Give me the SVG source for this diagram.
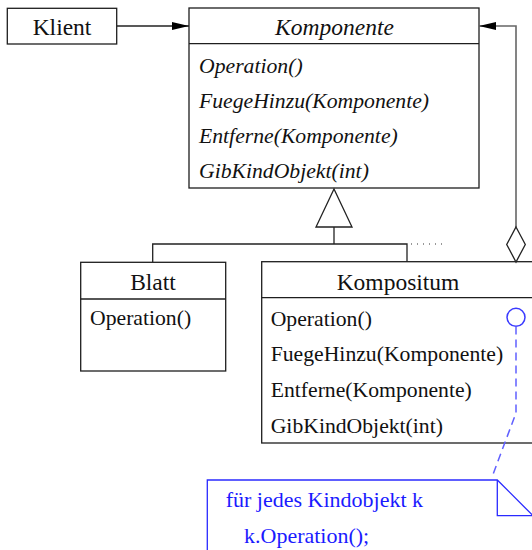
<svg xmlns="http://www.w3.org/2000/svg" width="532" height="550" viewBox="0 0 532 550">
  <style>
    .box { fill: #ffffff; stroke: #1e1e1e; stroke-width: 1.3; }
    .sep { stroke: #1e1e1e; stroke-width: 1.3; fill: none; }
    text { font-family: "Liberation Serif", "Times New Roman", serif; font-size: 21.7px; }
    .t { fill: #111111; }
    .hd { font-size: 23.5px; text-anchor: middle; }
    .it { font-style: italic; }
    .line { stroke: #222222; stroke-width: 1.3; fill: none; }
    .agg { stroke: #666666; stroke-width: 1.6; fill: none; }
    .note { fill: #ffffff; stroke: #2a2aff; stroke-width: 1.3; }
    .nt { fill: #1a1aff; font-size: 22px; }
    .link { stroke: #6060ff; stroke-width: 1.5; fill: none; stroke-dasharray: 8 5; }
  </style>
  <defs>
    <marker id="arrow" viewBox="0 0 17 8" refX="17" refY="4" markerWidth="17" markerHeight="8" markerUnits="userSpaceOnUse" orient="auto">
      <path d="M0,0 L17,4 L0,8 Z" fill="#000000"/>
    </marker>
  </defs>

  <g id="klient">
    <rect class="box" x="7.3" y="8.3" width="109.4" height="35.7"/>
    <text class="t hd" x="62" y="35">Klient</text>
  </g>

  <g id="komponente">
    <rect class="box" x="189" y="8" width="290" height="180"/>
    <line class="sep" x1="189" y1="43.7" x2="479" y2="43.7"/>
    <text class="t hd it" x="334.5" y="34.5">Komponente</text>
    <text class="t it" x="199" y="73">Operation()</text>
    <text class="t it" x="199" y="107.5">FuegeHinzu(Komponente)</text>
    <text class="t it" x="199" y="143">Entferne(Komponente)</text>
    <text class="t it" x="199" y="178">GibKindObjekt(int)</text>
  </g>

  <g id="blatt">
    <rect class="box" x="80.7" y="262.3" width="145" height="108.7"/>
    <line class="sep" x1="80.7" y1="299" x2="225.7" y2="299"/>
    <text class="t hd" x="153" y="290">Blatt</text>
    <text class="t" x="90" y="325">Operation()</text>
  </g>

  <g id="kompositum">
    <rect class="box" x="261.7" y="261.7" width="272.3" height="181.3"/>
    <line class="sep" x1="261.7" y1="297.7" x2="534" y2="297.7"/>
    <text class="t hd" x="398" y="290">Kompositum</text>
    <text class="t" x="270.7" y="326">Operation()</text>
    <text class="t" x="270.7" y="361">FuegeHinzu(Komponente)</text>
    <text class="t" x="270.7" y="397">Entferne(Komponente)</text>
    <text class="t" x="270.7" y="432.5">GibKindObjekt(int)</text>
  </g>

  <g id="notiz">
    <path class="note" d="M207.3,560 L207.3,480 L497.3,480 L533,515.7 L533,560 Z"/>
    <polyline points="497.3,480 497.3,515.7 533,515.7" fill="none" stroke="#2a2aff" stroke-width="1.3"/>
    <text class="nt" x="225.7" y="506.7">für jedes Kindobjekt k</text>
    <text class="nt" x="244" y="543.3">k.Operation();</text>
  </g>

  <!-- connectors, drawn last so they sit on top of the boxes -->
  <g id="connectors">
    <!-- Klient -> Komponente -->
    <line class="line" x1="117" y1="26" x2="189" y2="26" marker-end="url(#arrow)"/>
    <!-- aggregation Kompositum -> Komponente -->
    <polyline class="agg" points="516,227 516,26 479,26" marker-end="url(#arrow)"/>
    <polygon points="516,227 525.3,244.5 516,262 506.7,244.5" fill="#ffffff" stroke="#222222" stroke-width="1.3"/>
    <!-- inheritance -->
    <polygon points="334,189 352,227 316,227" fill="#ffffff" stroke="#222222" stroke-width="1.3"/>
    <line class="line" x1="334" y1="227" x2="334" y2="244"/>
    <polyline class="line" points="152.7,262 152.7,244 407,244 407,262"/>
    <line x1="411" y1="244" x2="442" y2="244" stroke="#333333" stroke-width="1.2" stroke-dasharray="1 5"/>
    <!-- note link -->
    <circle cx="516" cy="317.3" r="9" fill="none" stroke="#3a3aff" stroke-width="1.5"/>
    <polyline class="link" points="516,326.5 516,413 492,477"/>
  </g>
</svg>
